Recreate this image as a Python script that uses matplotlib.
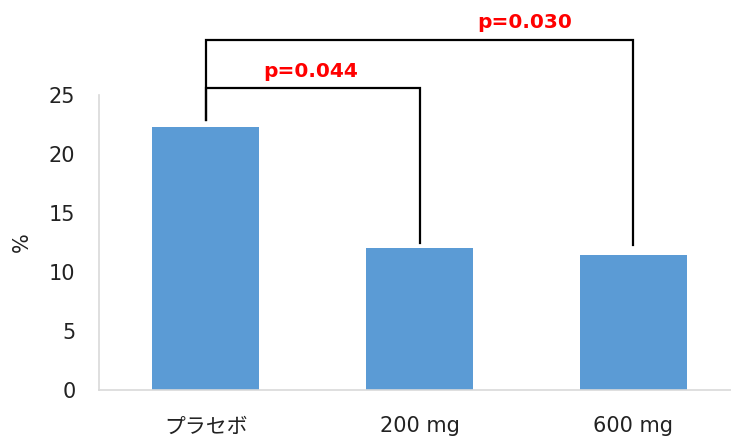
import numpy as np
import matplotlib.pyplot as plt

plt.rcParams['font.family'] = ['DejaVu Sans', 'Noto Sans CJK JP']

categories = ['プラセボ', '200 mg', '600 mg']
values = [22.3, 12.0, 11.4]
yticks = [0, 5, 10, 15, 20, 25]

# significance brackets: (from, to, bracket height, left foot, right foot, label, label x)
brackets = [
    (0, 1, 25.6, 22.9, 12.5, 'p=0.044', 0.49),
    (0, 2, 29.7, 22.9, 12.3, 'p=0.030', 1.49),
]

fig = plt.figure(figsize=(7.31, 4.37), dpi=100)
ax = fig.add_axes([99/731, 47/437, 641/731, 295/437])

x = np.arange(len(categories))
ax.bar(x, values, width=0.5, color='#5B9BD5')
ax.set_xlim(-0.5, 2.5)
ax.set_ylim(0, 25)
ax.set_yticks(yticks)
ax.set_xticks(x)
ax.set_xticklabels(categories)
ax.tick_params(axis='both', length=0, labelsize=15, colors='#222222')
ax.tick_params(axis='y', pad=17)
ax.tick_params(axis='x', pad=19)

for s in ['top', 'right']:
    ax.spines[s].set_visible(False)
for s in ['left', 'bottom']:
    ax.spines[s].set_color('#d9d9d9')
    ax.spines[s].set_linewidth(1.2)

ax.set_ylabel('%', fontsize=15, color='#222222')
ax.yaxis.set_label_coords(-0.105, 0.5)

for i0, i1, h, f0, f1, lab, lx in brackets:
    ax.plot([x[i0], x[i0], x[i1], x[i1]], [f0, h, h, f1],
            color='black', lw=1.6, clip_on=False, solid_joinstyle='miter')
    ax.text(lx, h + 0.6, lab, color='red', fontsize=14.5,
            fontweight='bold', ha='center', va='bottom', clip_on=False)

fig.savefig('out.png', dpi=100)
